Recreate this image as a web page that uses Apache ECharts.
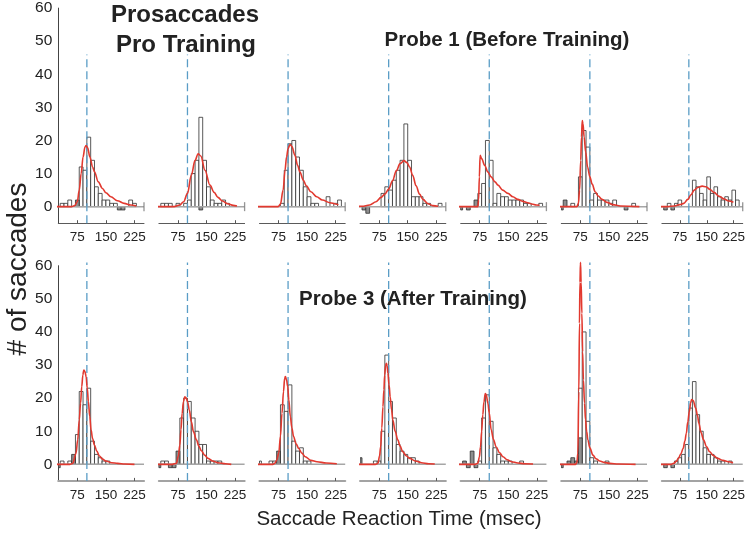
<!DOCTYPE html>
<html><head><meta charset="utf-8">
<script src="https://cdn.jsdelivr.net/npm/echarts@6/dist/echarts.min.js"></script>
<style>html,body{margin:0;padding:0;background:#fff}#c{width:748px;height:536px}</style>
</head><body><div id="c"></div><script>
// ---------- data ----------
const BIN_START = 20, BIN_WIDTH = 10;          // bins [20,30), [30,40) ... [240,250)
const xTickValues = [75, 150, 225];
const yTickValues = [0, 10, 20, 30, 40, 50, 60];
const threshold = 100;                           // dashed reference (msec)
const dashTop = [46, 61];                        // top of dashed line per row (count units)

// Probe 1 (before training) – white histogram counts
const countsT1 = [0,1,1,2,0,0,12,11,21,14,6,4,2,2,1,1,0,0,0,2,1,0,0];
const countsT2 = [0,1,1,1,0,1,0,1,2,10,14,27,14,6,2,1,1,2,1,0,0,0,0];
const countsT3 = [0,0,0,0,0,0,1,11,19,20,15,11,6,3,1,1,0,0,3,0,1,2,0];
const countsT4 = [0,0,0,0,0,0,4,6,5,8,11,14,25,14,3,3,3,1,1,0,0,1,0];
const countsT5 = [0,0,0,0,0,4,7,20,14,1,4,3,3,2,2,2,2,1,1,0,0,1,0];
const countsT6 = [0,0,0,1,0,9,23,18,2,4,2,2,2,1,2,0,0,0,0,1,0,0,0];
const countsT7 = [0,0,1,0,1,2,0,0,0,8,6,4,2,9,4,6,3,2,3,2,5,2,0];
// Probe 1 – gray histogram counts
const grayT1 = [0,0,0,0,0,2,0,0,0,0,0,0,0,0,0,0,-1,-1,0,0,0,0,0];
const grayT2 = [0,0,0,0,0,0,0,0,0,0,0,-1,0,0,0,0,0,0,0,0,0,0,0];
const grayT3 = [0,0,0,0,0,0,0,0,0,0,0,0,0,0,0,0,0,0,0,0,0,0,0];
const grayT4 = [0,-1,-2,0,0,0,0,0,0,0,0,0,0,0,0,0,0,0,0,0,0,0,0];
const grayT5 = [-1,0,-1,0,2,0,0,0,0,0,0,0,0,0,0,0,0,0,0,0,0,0,0];
const grayT6 = [-1,2,0,0,0,0,0,0,0,0,0,0,0,0,0,0,0,-1,0,0,0,0,0];
const grayT7 = [0,-1,0,-1,0,0,0,0,0,0,0,0,0,0,0,0,0,0,0,0,0,0,0];

// Probe 3 (after training) – white histogram counts
const countsB1 = [0,1,0,1,0,9,22,18,23,7,3,2,1,1,0,0,0,0,0,0,0,0,0];
const countsB2 = [0,1,1,0,0,0,14,20,19,14,10,6,6,1,1,1,1,0,0,0,0,0,0];
const countsB3 = [1,0,0,1,1,0,18,16,24,7,4,5,1,1,0,0,0,0,0,0,0,0,0];
const countsB4 = [0,0,0,0,1,1,10,33,19,14,6,4,3,2,2,1,0,0,0,0,0,0,0];
const countsB5 = [0,0,0,0,0,1,14,21,13,5,3,1,1,1,0,0,1,0,0,0,0,0,0];
const countsB6 = [0,0,0,0,0,23,40,13,2,1,0,0,1,0,0,0,0,0,0,0,0,0,0];
const countsB7 = [0,0,0,0,1,2,3,6,17,25,15,10,5,3,3,2,1,1,0,1,0,0,0];
// Probe 3 – gray histogram counts
const grayB1 = [-1,0,0,0,3,0,0,0,0,0,0,0,0,0,0,0,0,0,0,0,0,0,0];
const grayB2 = [-1,0,0,-1,-1,4,0,0,0,0,0,0,0,0,0,0,0,0,0,0,0,0,0];
const grayB3 = [0,0,0,0,0,4,0,0,0,0,0,0,0,0,0,0,0,0,0,0,0,0,0];
const grayB4 = [2,0,0,0,0,0,0,0,0,0,0,0,0,0,0,0,0,0,0,0,0,0,0];
const grayB5 = [0,1,-1,4,-1,0,0,0,0,0,0,0,0,0,0,0,0,0,0,0,0,0,0];
const grayB6 = [-1,0,1,2,1,8,0,0,0,0,0,0,0,0,0,0,0,0,0,0,0,0,0];
const grayB7 = [0,-1,0,-1,0,0,0,0,0,0,0,0,0,0,0,0,0,0,0,0,0,0,0];

// fitted curves [msec, count]
const fitT1 = [[0,0],[60,0],[68,0.3],[75,1.5],[80,5],[85,10],[90,15],[95,18],[98,18.5],[102,17.8],[108,15],[115,12],[120,10.5],[130,7.5],[141,5.5],[150,4.2],[163,3],[180,1.8],[198,1],[215,0.5],[230,0.2]];
const fitT2 = [[0,0],[65,0],[80,0.5],[90,1.5],[100,4],[110,9.5],[120,14],[128,16],[135,15.3],[146,11],[159,6.5],[170,4.3],[180,2.8],[192,1.7],[205,0.9],[220,0.4],[230,0.2]];
const fitT3 = [[0,0],[74,0],[80,0.8],[87,5],[92,11],[96,15],[100,17.5],[105,18.8],[110,18.2],[118,15.5],[125,12.5],[131,10.5],[140,8],[148,6.3],[160,4.5],[175,3],[190,2],[210,1.2],[225,0.8],[232,0.6]];
const fitT4 = [[0,0],[30,0.1],[50,0.5],[67,1.5],[80,2.8],[90,3.8],[100,5.3],[110,7.8],[120,10.8],[130,13],[140,13.9],[148,13.3],[155,12],[163,9.5],[172,6.3],[181,3.8],[190,2.2],[203,0.9],[216,0.3],[230,0.1]];
const fitT5 = [[0,0],[70,0],[72,2],[74,9],[76,15.5],[80,14.5],[88,12.5],[96,10.5],[105,9],[115,7.5],[123,6.5],[135,5],[149,4],[162,3],[175,2.2],[188,1.6],[201,1.2],[212,0.8],[223,0.5],[232,0.4]];
const fitT6 = [[0,0],[66,0],[70,1],[73,5],[76,14],[78,21],[80,26],[82,25],[85,21],[89,16.5],[94,12],[100,9],[106,6.8],[114,4.5],[122,3.2],[132,2.2],[145,1.3],[160,0.6],[180,0.2],[230,0]];
const fitT7 = [[0,0],[40,0],[60,0.2],[75,0.6],[86,1],[97,2.2],[106,3.6],[115,5],[125,5.8],[137,6.2],[148,6],[159,5.2],[170,4.3],[185,3.1],[198,2.3],[211,1.7],[224,1.3]];
const fitB1 = [[0,0],[55,0],[63,0.3],[71.5,3.3],[76,7.5],[80,13.4],[83.5,18.5],[86.6,23.5],[89.5,27],[92,28.5],[95,28],[98,26.5],[101,23],[104,19],[107.5,14.5],[111,10.4],[115,7.8],[120,5.8],[126,4],[133,2.5],[141,1.6],[150,1],[165,0.5],[181,0.3],[200,0.1],[225,0]];
const fitB2 = [[0,0],[60,0],[71,0.3],[76,2.5],[80,5.8],[83,10.5],[86,15.4],[89.5,19],[93,20.4],[96.5,20],[100,19],[105,16.3],[110,12.9],[116,9.8],[123.5,7.4],[130,5.5],[136.6,4.1],[145,2.8],[154,1.8],[166,1],[180,0.5],[200,0.2],[215,0]];
const fitB3 = [[0,0],[60,0],[65,0.3],[70,1.2],[75.5,3.3],[80,8.5],[84,15.4],[88,22],[91,26],[93,26.5],[96,25.5],[99,23.5],[102,19.5],[106,14.4],[110,11],[114.5,8.4],[121,6.2],[128,4.8],[136,3.4],[145,2.3],[160,1.2],[176,0.8],[200,0.4],[228,0.2]];
const fitB4 = [[0,0],[65,0],[72,0.3],[76,2.5],[79,5.3],[82,11],[85,17.4],[87.5,22.5],[89.5,27],[92,29.8],[94,30.5],[96,29.8],[98,27.5],[101,24],[104,20.4],[107.5,16.5],[111,13.4],[117,10],[124,7.4],[130,5.5],[137,3.8],[146,2.6],[155,1.8],[170,1],[186,0.5],[205,0.2],[221,0.1]];
const fitB5 = [[0,0],[62,0],[70,0.3],[74,2.2],[77,5.3],[80,10],[83,15],[86,18.8],[89.5,21.4],[92,21],[96.5,18.4],[100,15.5],[105,10.4],[111,7.5],[118,5.3],[127,3.5],[136,2.3],[147,1.4],[158,0.8],[175,0.4],[193,0.2],[215,0.1]];
const fitB6 = [[0,0],[62,0],[66,0.5],[68.4,3.3],[71,22],[72.7,42.6],[74,55],[75.4,61],[77,55],[79,45.6],[81,34],[83,25.5],[86,18.5],[88.6,13.4],[91.5,10],[94.7,7.4],[100,5],[108,2.8],[116,1.7],[126,1],[138,0.6],[152,0.3],[175,0.1],[220,0]];
const fitB7 = [[0,0],[50,0],[57.8,0.3],[65,0.9],[71,1.8],[78,3.2],[84,4.8],[89,7],[93,9.4],[97,12.8],[101.5,16],[105,18.6],[108,19.6],[112,19.3],[119,17],[124,14.8],[128,12.4],[134,9.6],[141,7.4],[149,5.4],[158,3.8],[168,2.7],[180,1.8],[195,1.2],[210,0.8],[223,0.5]];

const rows = [
  {counts:[countsT1,countsT2,countsT3,countsT4,countsT5,countsT6,countsT7],
   gray:[grayT1,grayT2,grayT3,grayT4,grayT5,grayT6,grayT7],
   fit:[fitT1,fitT2,fitT3,fitT4,fitT5,fitT6,fitT7]},
  {counts:[countsB1,countsB2,countsB3,countsB4,countsB5,countsB6,countsB7],
   gray:[grayB1,grayB2,grayB3,grayB4,grayB5,grayB6,grayB7],
   fit:[fitB1,fitB2,fitB3,fitB4,fitB5,fitB6,fitB7]}
];

// ---------- layout / style ----------
const FONT = '"Liberation Sans", Arial, Helvetica, sans-serif';
const X_MIN = 25, X_MAX = 250, Y_MIN = -5, Y_MAX = 60;
const rowTop = [8.1, 265.7], rowH = [215.1, 215.2];
const colLeft0 = 58.3, colStep = 100.6, colW = 85.7;
const RED = '#e2392f', BLUE = '#5a9dc6';

function binData(arr){
  const out = [];
  arr.forEach((v,i)=>{ if(v!==0) out.push([BIN_START+i*BIN_WIDTH, BIN_START+(i+1)*BIN_WIDTH, v]); });
  return out;
}
function barRenderer(fill){
  return function(params, api){
    const a = api.coord([api.value(0), api.value(2)]);
    const b = api.coord([api.value(1), 0]);
    const cs = params.coordSys;
    const shape = echarts.graphic.clipRectByRect(
      {x:Math.min(a[0],b[0]), y:Math.min(a[1],b[1]), width:Math.abs(b[0]-a[0]), height:Math.abs(b[1]-a[1])},
      {x:cs.x, y:cs.y, width:cs.width, height:cs.height});
    if(!shape) return;
    return {type:'rect', shape:shape, style:{fill:fill, stroke:'#2e2e2e', lineWidth:0.8}};
  };
}

const grid=[], xAxis=[], yAxis=[], series=[];
rows.forEach((row, r)=>{
  for(let c=0;c<7;c++){
    const k = grid.length;
    grid.push({left:colLeft0+c*colStep, top:rowTop[r], width:colW, height:rowH[r]});
    const axCol = r===0 ? '#5a5a5a' : '#a3a3a3';
    xAxis.push({gridIndex:k, type:'value', min:X_MIN, max:X_MAX,
      axisLine:{show:true, onZero:false, lineStyle:{color:axCol, width:r===0?1:2.2}},
      axisTick:{show:true, inside:true, length:3, customValues:xTickValues, lineStyle:{color:'#555', width:1}},
      axisLabel:{show:true, customValues:xTickValues, fontSize:13.5, fontFamily:FONT, color:'#222', margin:7},
      splitLine:{show:false}});
    yAxis.push({gridIndex:k, type:'value', min:Y_MIN, max:Y_MAX, show:c===0,
      axisLine:{show:true, onZero:false, lineStyle:{color:'#444', width:1}},
      axisTick:{show:false},
      axisLabel:{show:true, customValues:yTickValues, fontSize:15.5, fontFamily:FONT, color:'#222', margin:6},
      splitLine:{show:false}});
    series.push({type:'custom', xAxisIndex:k, yAxisIndex:k, clip:true, silent:true, z:2,
      encode:{x:[0,1], y:2}, data:binData(row.counts[c]), renderItem:barRenderer('#ffffff')});
    series.push({type:'custom', xAxisIndex:k, yAxisIndex:k, clip:true, silent:true, z:3,
      encode:{x:[0,1], y:2}, data:binData(row.gray[c]), renderItem:barRenderer('#8e8e8e')});
    series.push({type:'line', xAxisIndex:k, yAxisIndex:k, clip:false, silent:true, z:4,
      data:[[0,0],[X_MAX,0]], symbol:'none', lineStyle:{color:'#a6a6a6', width:1.5}});
    if(r===0){
      series.push({type:'scatter', xAxisIndex:k, yAxisIndex:k, clip:false, silent:true, z:4,
        data:[[X_MAX,0]], symbol:'rect', symbolSize:[1.3,9], itemStyle:{color:'#7a7a7a'}});
    }
    series.push({type:'line', xAxisIndex:k, yAxisIndex:k, clip:false, silent:true, z:5,
      data:[[threshold,Y_MIN],[threshold,dashTop[r]]], symbol:'none',
      lineStyle:{color:BLUE, width:1.3, type:[8,4]}});
    series.push({type:'line', xAxisIndex:k, yAxisIndex:k, clip:false, silent:true, z:6,
      data:row.fit[c], symbol:'none', showSymbol:false, smooth:0.35, smoothMonotone:'x',
      lineStyle:{color:RED, width:1.6}});
  }
});

const txt = (x,y,text,font,extra)=>Object.assign({type:'text', x:x, y:y, silent:true,
  style:{text:text, font:font, fill:'#222', textAlign:'center', textVerticalAlign:'middle'}}, extra||{});

const chart = echarts.init(document.getElementById('c'), null, {renderer:'canvas'});
chart.setOption({
  animation:false,
  backgroundColor:'#ffffff',
  grid:grid, xAxis:xAxis, yAxis:yAxis, series:series,
  graphic:[
    txt(185, 15, 'Prosaccades', 'bold 24px '+FONT),
    txt(186, 45, 'Pro Training', 'bold 24px '+FONT),
    txt(507, 40.5, 'Probe 1 (Before Training)', 'bold 20.5px '+FONT),
    txt(413, 299, 'Probe 3 (After Training)', 'bold 20.5px '+FONT),
    txt(399, 519, 'Saccade Reaction Time (msec)', '20.5px '+FONT),
    txt(18, 269, '# of saccades', '28px '+FONT, {rotation:Math.PI/2})
  ]
});
</script></body></html>
